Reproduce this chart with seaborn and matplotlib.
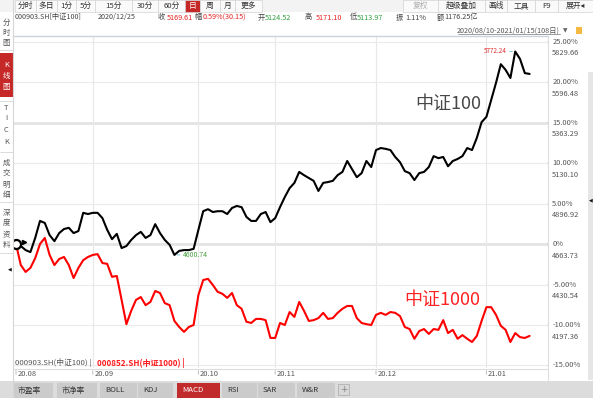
import matplotlib
matplotlib.use("Agg")
import numpy as np
import pandas as pd
import matplotlib.pyplot as plt
import seaborn as sns
from matplotlib.patches import Rectangle, Circle
from matplotlib.lines import Line2D

# ---------------- data ----------------
series_names = ["中证100", "中证1000"]
day_index = list(range(108))
csi100_pct = [0.0, -0.25, -0.75, -1.0, 0.75, 2.85, 2.6, 1.1, 0.35, 1.35,
              1.85, 2.0, 1.35, 1.6, 3.85, 3.7, 3.85, 3.85, 3.2, 1.75,
              0.6, 1.25, -0.5, -0.25, 0.5, 1.1, 1.5, 0.75, 1.1, 2.45,
              1.35, 0.5, -0.1, -1.35, -0.85, -0.75, -0.75, -0.6, 1.75, 4.05,
              4.3, 3.95, 4.05, 4.05, 3.7, 4.45, 4.7, 4.55, 3.35, 2.85,
              2.85, 3.7, 3.95, 2.7, 3.2, 4.55, 5.8, 6.9, 7.55, 8.9,
              8.5, 8.15, 7.8, 6.55, 7.55, 7.65, 7.8, 8.5, 8.9, 10.25,
              9.25, 8.25, 8.75, 10.25, 9.5, 11.6, 11.85, 11.75, 11.6, 10.75,
              10.1, 9.0, 8.75, 7.9, 8.75, 8.9, 9.5, 10.85, 10.6, 10.75,
              9.6, 10.25, 10.5, 10.85, 11.85, 11.6, 13.1, 15.05, 15.7, 17.8,
              19.9, 22.2, 21.5, 20.5, 23.77, 22.85, 21.1, 21.0]
csi1000_pct = [0.0, -2.6, -3.45, -2.95, -1.75, 0.0, 0.75, -1.35, -2.6, -1.85,
               -1.6, -2.6, -4.2, -2.95, -2.0, -1.6, -1.35, -1.25, -2.35, -2.45,
               -4.05, -3.95, -6.9, -9.9, -8.25, -6.9, -6.55, -7.55, -7.15, -5.8,
               -6.05, -7.3, -7.55, -9.5, -10.25, -10.85, -10.25, -10.0, -6.3, -4.45,
               -4.3, -5.05, -5.9, -6.15, -6.65, -6.05, -7.55, -8.0, -9.6, -9.75,
               -9.25, -9.25, -9.4, -11.6, -11.6, -9.75, -10.0, -8.4, -9.0, -7.15,
               -8.25, -9.5, -9.4, -9.15, -8.5, -9.25, -9.15, -8.5, -8.0, -7.65,
               -7.65, -9.15, -9.75, -9.9, -10.0, -8.75, -8.5, -8.75, -8.4, -8.5,
               -8.9, -10.25, -10.5, -11.7, -10.75, -10.5, -11.1, -10.5, -10.6, -9.4,
               -11.0, -10.6, -11.7, -11.25, -11.7, -12.1, -11.35, -9.5, -7.8, -7.8,
               -8.75, -10.1, -10.6, -12.1, -11.0, -11.5, -11.6, -11.35]
month_labels = ["20.08", "20.09", "20.10", "20.11", "20.12", "21.01"]
month_start_idx = [0, 16, 38, 54, 75, 98]
pct_levels = [25, 20, 15, 10, 5, 0, -5, -10, -15]
pct_labels = ["25.00%", "20.00%", "15.00%", "10.00%", "5.00%", "0%", "-5.00%", "-10.00%", "-15.00%"]
price_labels = ["5829.66", "5596.48", "5363.29", "5130.10", "4896.92", "4663.73", "4430.54", "4197.36", ""]
peak_label, peak_idx, peak_val = "5772.24", 104, 23.77
low_label, low_idx, low_val = "4600.74", 33, -1.35

df = pd.DataFrame({
    "day": day_index * 2,
    "pct": csi100_pct + csi1000_pct,
    "series": [series_names[0]] * 108 + [series_names[1]] * 108,
})

# ---------------- figure ----------------
sns.set_theme(style="white")
plt.rcParams["font.family"] = ["Noto Sans CJK SC", "DejaVu Sans"]

W, H = 593, 398
fig = plt.figure(figsize=(W / 100, H / 100), dpi=100)
fig.patch.set_facecolor("white")


def fx(x):
    return x / W


def fy(y):
    return 1 - y / H


def ptext(x, y, s, **kw):
    kw.setdefault("va", "center")
    kw.setdefault("ha", "left")
    kw.setdefault("fontsize", 5.6)
    kw.setdefault("color", "#333333")
    fig.text(fx(x), fy(y), s, **kw)


def prect(x0, y0, x1, y1, **kw):
    fig.add_artist(Rectangle((fx(x0), fy(y1)), fx(x1) - fx(x0), fy(y0) - fy(y1),
                             transform=fig.transFigure, **kw))


def pline(x0, y0, x1, y1, **kw):
    fig.add_artist(Line2D([fx(x0), fx(x1)], [fy(y0), fy(y1)], transform=fig.transFigure, **kw))


# main axes (pixel box x 13..548, y 37..368)
ax = fig.add_axes([fx(13), fy(368), fx(548) - fx(13), fy(37) - fy(368)])
ax.set_facecolor("white")
ax.set_xlim(-0.625, 110.83)
ax.set_ylim(-15.31, 25.56)

# grid
for L in pct_levels:
    if L in (0, 15):
        ax.axhline(L, color="#e4e4e4", lw=2.0, zorder=0)
    else:
        ax.axhline(L, color="#ebebeb", lw=0.8, zorder=0)
for m in month_start_idx[1:]:
    ax.axvline(m, color="#e8e8e8", lw=0.8, zorder=0)

sns.lineplot(data=df, x="day", y="pct", hue="series",
             palette={series_names[0]: "#000000", series_names[1]: "#ff0000"},
             linewidth=1.5, legend=False, ax=ax, zorder=3)

for s in ax.spines.values():
    s.set_visible(False)
ax.set_xlabel("")
ax.set_ylabel("")
ax.set_xticks([])
ax.set_yticks([])

# start marker
ax.plot([0], [csi100_pct[0]], marker="o", ms=6.5, mfc="white", mec="black", mew=1.6, zorder=5)
ax.plot([1.6], [csi100_pct[0] + 0.25], marker=">", ms=3, color="black", zorder=5)

# peak / low annotations
ax.annotate("", xy=(peak_idx, peak_val), xytext=(peak_idx - 1.7, peak_val),
            arrowprops=dict(arrowstyle="-", color="#7fc1de", lw=0.7))
ax.annotate(peak_label, xy=(peak_idx - 1.8, peak_val), xytext=(0, 0), textcoords="offset points",
            ha="right", va="center", fontsize=4.6, color="#e03030")
ax.annotate("", xy=(low_idx, low_val), xytext=(low_idx + 1.7, low_val),
            arrowprops=dict(arrowstyle="-", color="#7fc1de", lw=0.7))
ax.annotate(low_label, xy=(low_idx + 1.8, low_val), xytext=(0, 0), textcoords="offset points",
            ha="left", va="center", fontsize=5.0, color="#4aa040")

# big series labels
ax.text(90.0, 17.35, series_names[0], fontsize=13, color="#474747", ha="center", va="center")
ax.text(88.8, -6.9, series_names[1], fontsize=13, color="#ff2222", ha="center", va="center")

# right axis labels
for L, pl, pr in zip(pct_levels, pct_labels, price_labels):
    ax.annotate("", xy=(1.0, L), xycoords=("axes fraction", "data"),
                xytext=(2.3, 0), textcoords="offset points",
                arrowprops=dict(arrowstyle="-", color="#888888", lw=0.6), annotation_clip=False)
    ax.annotate(pl, xy=(1.0, L), xycoords=("axes fraction", "data"),
                xytext=(3.0, 0), textcoords="offset points", ha="left", va="center",
                fontsize=5.4, color="#555555", annotation_clip=False)
    if pr:
        ax.annotate(pr, xy=(1.0, L), xycoords=("axes fraction", "data"),
                    xytext=(3.0, -8.4), textcoords="offset points", ha="left", va="center",
                    fontsize=5.4, color="#555555", annotation_clip=False)

# x-axis month labels and ticks (row below plot)
for m, lab in zip(month_start_idx, month_labels):
    ax.annotate("", xy=(m, 0), xycoords=("data", "axes fraction"),
                xytext=(0, -6.5), textcoords="offset points",
                arrowprops=dict(arrowstyle="-", color="#bbbbbb", lw=0.7), annotation_clip=False)
    ax.annotate(lab, xy=(m, 0), xycoords=("data", "axes fraction"),
                xytext=(1.2, -4.4), textcoords="offset points", ha="left", va="center",
                fontsize=5.4, color="#555555", annotation_clip=False)

# ---------------- chrome ----------------
# plot frame lines
pline(13, 36, 548, 36, color="#c9d3dc", lw=1.0)
pline(548, 36, 548, 380, color="#dddddd", lw=0.8)
pline(13, 369, 548, 369, color="#dddddd", lw=0.8)
pline(12.5, 0, 12.5, 398, color="#d6d6d6", lw=0.8)
prect(588, 72, 593, 380, facecolor="#e6e6e6", edgecolor="none")
ptext(588.5, 200, "◀", fontsize=3.5, color="#111111", family=["DejaVu Sans"])
ptext(8, 269, "◀", fontsize=3.5, color="#111111", family=["DejaVu Sans"])

# top toolbar
prect(0, 0, 593, 12, facecolor="#f3f3f3", edgecolor="none")
left_tabs = [("分时", 15, 36), ("多日", 36, 57), ("1分", 57, 76), ("5分", 76, 95),
             ("15分", 95, 132), ("30分", 132, 158), ("60分", 158, 185), ("日", 185, 200),
             ("周", 200, 220), ("月", 220, 235), ("更多", 235, 262)]
for lab, x0, x1 in left_tabs:
    red = lab == "日"
    prect(x0, 0, x1, 12, facecolor="#c62828" if red else "#fafafa", edgecolor="#d4d4d4", lw=0.5)
    ptext((x0 + x1) / 2, 6, lab, ha="center", fontsize=5.6, color="white" if red else "#333333")
right_tabs = [("复权", 403, 438), ("超级叠加", 438, 485), ("画线", 485, 507),
              ("工具", 507, 535), ("F9", 535, 558), ("展开◂", 558, 593)]
for lab, x0, x1 in right_tabs:
    prect(x0, 0, x1, 12, facecolor="#fafafa", edgecolor="#d4d4d4", lw=0.5)
    ptext((x0 + x1) / 2, 6, lab, ha="center", fontsize=5.6,
          color="#b0b0b0" if lab == "复权" else "#333333")

# info row
RED, GREEN, GREY = "#e52222", "#2f9e3f", "#444444"
info = [("000903.SH[中证100]", 15, GREY), ("2020/12/25", 98, GREY),
        ("收", 158, GREY), ("5169.61", 167, RED), ("幅", 195, GREY), ("0.59%(30.15)", 203, RED),
        ("开", 258, GREY), ("5124.52", 265, GREEN), ("高", 305, GREY), ("5171.10", 316, RED),
        ("低", 350, GREY), ("5113.97", 357, GREEN), ("振", 396, GREY), ("1.11%", 405, GREY),
        ("额", 437, GREY), ("1176.25亿", 444, GREY)]
for s, x, c in info:
    ptext(x, 17.5, s, fontsize=5.2, color=c)

# date range row
ptext(560, 30.5, "2020/08/10-2021/01/15(108日)", ha="right", fontsize=5.2, color="#555555")
pline(458, 34.2, 560, 34.2, color="#777777", lw=0.5)
ptext(563, 30.5, "▼", fontsize=4.2, color="#666666", family=["DejaVu Sans"])
prect(576, 27, 582, 34, facecolor="#f5b942", edgecolor="none")

# left sidebar
side_groups = [(["分", "时", "图"], [22.7, 32.7, 42.5], False),
               (["K", "线", "图"], [65, 76, 87], True),
               (["T", "I", "C", "K"], [108, 118, 130, 142], False),
               (["成", "交", "明", "细"], [163, 173, 185, 195], False),
               (["深", "度", "资", "料"], [213, 223, 235, 245], False)]
prect(0, 53, 12.5, 97, facecolor="#c62828", edgecolor="none")
for chars, ys, red in side_groups:
    for ch, yy in zip(chars, ys):
        ptext(6.2, yy, ch, ha="center", fontsize=5.4, color="white" if red else "#555555")
for ysep in (50, 101, 152, 202, 253):
    pline(0, ysep, 12.5, ysep, color="#d6d6d6", lw=0.6)

# bottom legend text
ptext(15, 362.5, "000903.SH(中证100) |", fontsize=5.6, color="#555555")
ptext(97, 362.5, "000852.SH(中证1000) |", fontsize=5.8, color="#ff1a1a", fontweight="bold")

# bottom tab bar
prect(0, 380.5, 593, 398, facecolor="#dcdcdc", edgecolor="none")
bottom_tabs = [("市盈率", 13, 53), ("市净率", 57, 97), ("BOLL", 100, 137), ("KDJ", 138, 173),
               ("MACD", 177, 220), ("RSI", 222, 257), ("SAR", 258, 295), ("W&R", 297, 335)]
for lab, x0, x1 in bottom_tabs:
    red = lab == "MACD"
    prect(x0, 382.5, x1, 398, facecolor="#c22b2b" if red else "#cbcbcb", edgecolor="none")
    ptext(x0 + 5, 390.5, lab, fontsize=5.6, color="white" if red else "#333333")
prect(338, 383.5, 349, 395, facecolor="#d8d8d8", edgecolor="#aaaaaa", lw=0.5)
ptext(343.5, 389.3, "+", ha="center", fontsize=6.5, color="#888888", family=["DejaVu Sans"])

fig.savefig("out.png", dpi=100, facecolor="white")
